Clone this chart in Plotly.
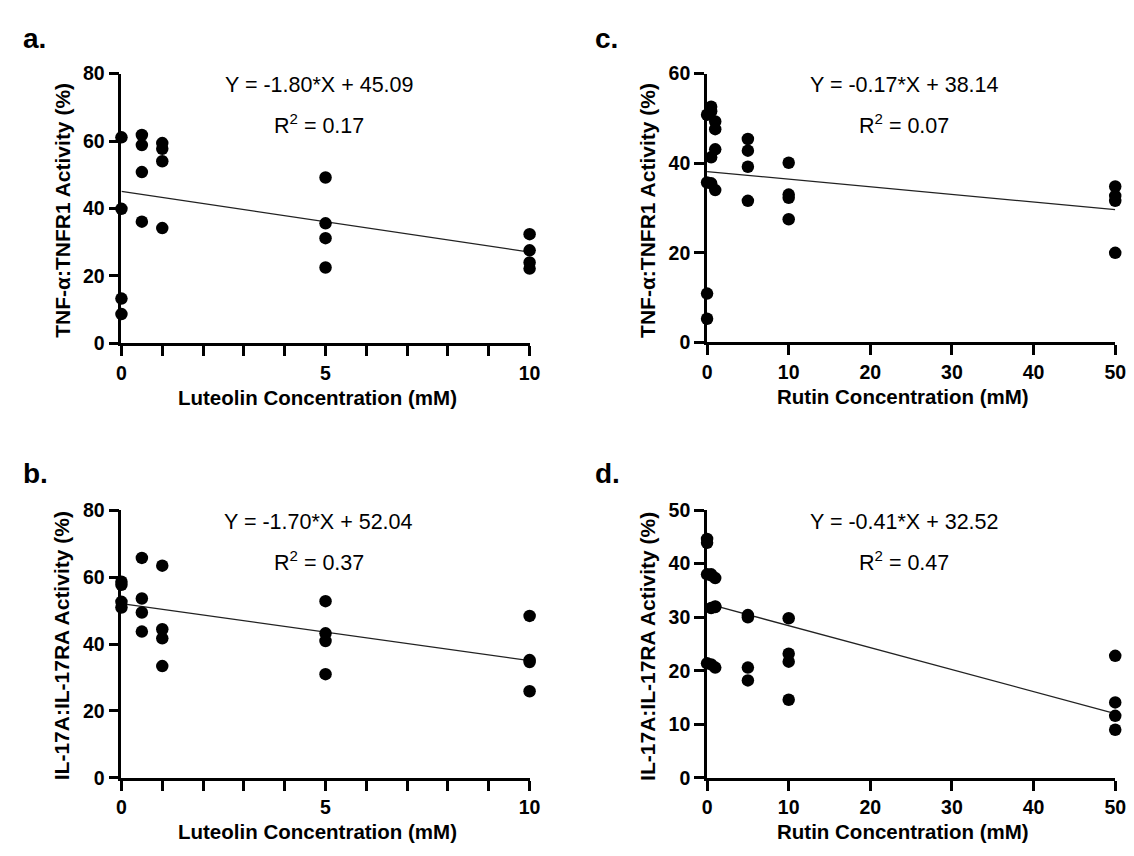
import plotly.graph_objects as go

W, H = 1134, 856

# ---------------- data ----------------
luteolin_conc = [0, 0.5, 1, 5, 10]
rutin_conc = [0, 0.5, 1, 5, 10, 50]

# replicate values (4 per concentration)
lut_tnf = [
    [61.1, 39.9, 13.3, 8.7],
    [61.8, 58.8, 50.8, 36.1],
    [59.4, 57.7, 54.0, 34.2],
    [49.2, 35.6, 31.2, 22.5],
    [32.4, 27.6, 24.0, 22.2],
]
lut_il17 = [
    [58.6, 57.7, 52.6, 50.9],
    [65.7, 53.6, 49.4, 43.7],
    [63.4, 44.4, 41.7, 33.4],
    [52.8, 43.2, 40.9, 31.0],
    [48.4, 35.2, 34.6, 25.9],
]
rut_tnf = [
    [50.8, 35.7, 10.9, 5.3],
    [52.6, 51.6, 41.3, 35.5],
    [49.3, 47.6, 43.1, 34.0],
    [45.4, 42.8, 39.2, 31.6],
    [40.1, 33.0, 32.3, 27.5],
    [34.8, 32.7, 31.6, 20.0],
]
rut_il17 = [
    [44.6, 43.9, 38.0, 21.4],
    [38.0, 37.8, 31.7, 21.2],
    [37.3, 32.0, 31.9, 20.6],
    [30.4, 30.0, 20.6, 18.2],
    [29.8, 23.2, 21.7, 14.6],
    [22.8, 14.1, 11.6, 9.0],
]

# fitted regressions as printed on the chart
fit_slope = {"a": -1.80, "b": -1.70, "c": -0.17, "d": -0.41}
fit_intercept = {"a": 45.09, "b": 52.04, "c": 38.14, "d": 32.52}
fit_r2 = {"a": 0.17, "b": 0.37, "c": 0.07, "d": 0.47}

panel_labels = ["a.", "b.", "c.", "d."]
x_titles = ["Luteolin Concentration (mM)", "Luteolin Concentration (mM)",
            "Rutin Concentration (mM)", "Rutin Concentration (mM)"]
y_titles = ["TNF-\u03b1:TNFR1 Activity (%)", "IL-17A:IL-17RA Activity (%)",
            "TNF-\u03b1:TNFR1 Activity (%)", "IL-17A:IL-17RA Activity (%)"]

# ---------------- layout helpers ----------------
def fx(p):
    return p / W

def fy(p):
    return 1 - p / H

FONT = "Arial, Liberation Sans, Helvetica, sans-serif"

panels = [
    # key, conc, values, x px span, y px span, x max, y max, y dtick, x kind
    ("a", luteolin_conc, lut_tnf, (110, 524), (56, 333), 10, 80, 20, "lut"),
    ("b", luteolin_conc, lut_il17, (110, 524), (504, 779), 10, 80, 20, "lut"),
    ("c", rutin_conc, rut_tnf, (704, 1118), (56, 332), 50, 60, 20, "rut"),
    ("d", rutin_conc, rut_il17, (704, 1118), (504, 779), 50, 50, 10, "rut"),
]

fig = go.Figure()
annotations = []

for i, (key, conc, vals, (x0, x1), (y0, y1), xmax, ymax, ydt, kind) in enumerate(panels):
    n = i + 1
    xa = "x" if n == 1 else f"x{n}"
    ya = "y" if n == 1 else f"y{n}"
    xs, ys = [], []
    for c, reps in zip(conc, vals):
        for v in reps:
            xs.append(c)
            ys.append(v)
    # regression line
    lx = [0, max(conc)]
    ly = [fit_intercept[key] + fit_slope[key] * v for v in lx]
    fig.add_trace(go.Scatter(x=lx, y=ly, mode="lines", xaxis=xa, yaxis=ya,
                             line=dict(color="#222", width=1.3),
                             showlegend=False, hoverinfo="skip", cliponaxis=False))
    fig.add_trace(go.Scatter(x=xs, y=ys, mode="markers", xaxis=xa, yaxis=ya,
                             marker=dict(color="black", size=12.5, line=dict(width=0)),
                             showlegend=False, cliponaxis=False))

    axis_common = dict(showline=True, linecolor="black", linewidth=2.8,
                       ticks="outside", ticklen=10, tickwidth=2.8, tickcolor="black",
                       showgrid=False, zeroline=False,
                       tickfont=dict(family=FONT, size=19.5, color="black", weight="bold"))
    if kind == "lut":
        xticks = dict(tickmode="linear", tick0=0, dtick=5,
                      minor=dict(tickmode="linear", tick0=0, dtick=1, ticks="outside",
                                 ticklen=10, tickwidth=2.8, tickcolor="black",
                                 showgrid=False))
    else:
        xticks = dict(tickmode="linear", tick0=0, dtick=10)

    xkey = "xaxis" if n == 1 else f"xaxis{n}"
    ykey = "yaxis" if n == 1 else f"yaxis{n}"
    fig.update_layout(**{
        xkey: dict(domain=[fx(x0), fx(x1)], range=[0, xmax], anchor=ya,
                   **xticks, **axis_common),
        ykey: dict(domain=[fy(y1), fy(y0)], range=[0, ymax], anchor=xa,
                   tickmode="linear", tick0=0, dtick=ydt, **axis_common),
    })

    xc = (x0 + x1) / 2
    # x title
    annotations.append(dict(x=fx(xc - 8), y=fy(y1 + 55), xref="paper", yref="paper",
                            text=f"<b>{x_titles[i]}</b>", showarrow=False,
                            font=dict(family=FONT, size=20.5, color="black"),
                            xanchor="center", yanchor="middle"))
    # y title
    annotations.append(dict(x=fx(x0 - 60), y=fy((y0 + y1) / 2 + 2), xref="paper", yref="paper",
                            text=f"<b>{y_titles[i]}</b>", showarrow=False, textangle=-90,
                            font=dict(family=FONT, size=21, color="black"),
                            xanchor="center", yanchor="middle"))
    # equation and R^2
    s = fit_slope[key]
    b0 = fit_intercept[key]
    annotations.append(dict(x=fx(xc - 7), y=fy(y0 + 12), xref="paper", yref="paper",
                            text=f"Y = {s:.2f}*X + {b0:.2f}", showarrow=False,
                            font=dict(family=FONT, size=21.5, color="black"),
                            xanchor="center", yanchor="middle"))
    annotations.append(dict(x=fx(xc - 7), y=fy(y0 + 52), xref="paper", yref="paper",
                            text=f"R<sup>2</sup> = {fit_r2[key]:.2f}", showarrow=False,
                            font=dict(family=FONT, size=21.5, color="black"),
                            xanchor="center", yanchor="middle"))
    # panel label
    lx_px = 8 if kind == "lut" else 588
    ly_px = 20 if key in ("a", "c") else 466
    annotations.append(dict(x=fx(lx_px), y=fy(ly_px), xref="paper", yref="paper",
                            text=f"<b>{panel_labels[i]}</b>", showarrow=False,
                            font=dict(family=FONT, size=28, color="black"),
                            xanchor="left", yanchor="middle"))

fig.update_layout(width=W, height=H, margin=dict(l=0, r=0, t=0, b=0),
                  plot_bgcolor="white", paper_bgcolor="white",
                  annotations=annotations, showlegend=False)

fig.write_html("out.html")
